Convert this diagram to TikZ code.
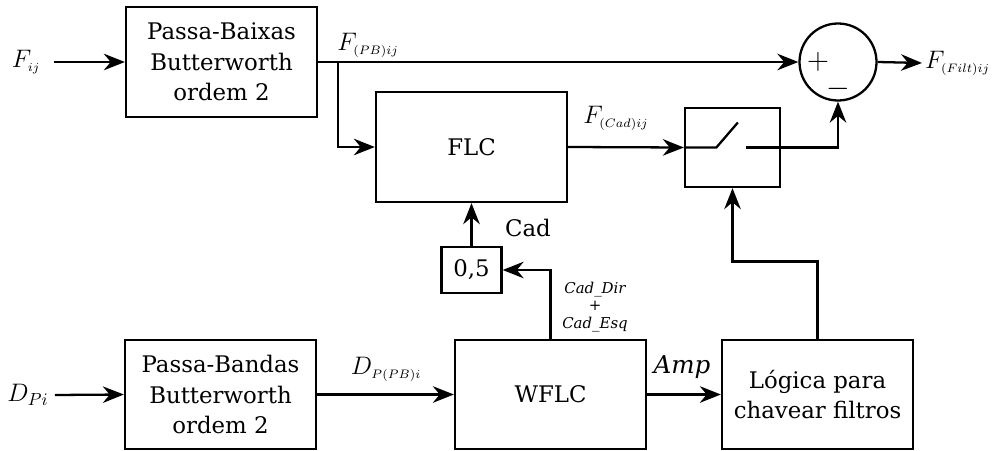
\documentclass[tikz,border=0pt]{standalone}
\usepackage{fontspec}
\setmainfont{DejaVu Serif}
\usetikzlibrary{arrows.meta,positioning}

\tikzset{
  txt/.style={font=\fontsize{13}{17.5}\selectfont},
  lab/.style={font=\fontsize{14}{16}\selectfont},
  blk/.style={draw,line width=1.3pt,minimum width=3.82cm,minimum height=2.2cm,align=center,txt},
  wire/.style={line width=1.3pt},
  sig/.style={line width=1.3pt,-{Stealth[length=4.2mm,width=3.3mm]}},
  small/.style={font=\fontsize{8.5}{10}\selectfont\itshape,align=center},
}
\newcommand{\ssub}[1]{_{\scriptscriptstyle #1}}

\begin{document}
\begin{tikzpicture}
\useasboundingbox (0,0) rectangle (19.9,9);
% blocos
\node[blk] (pb) at (4.43,7.76) {Passa-Baixas\\Butterworth\\ordem 2};
\node[blk] (flc) at (9.43,6.06) {FLC};
\node[draw,circle,line width=1.3pt,minimum size=1.54cm] (sum) at (16.76,7.76) {};
\node[draw,line width=1.3pt,minimum width=1.9cm,minimum height=1.58cm] (sw) at (14.65,6.05) {};
\node[blk,minimum height=2.18cm] (pband) at (4.41,1.11) {Passa-Bandas\\Butterworth\\ordem 2};
\node[blk,minimum height=2.18cm] (wflc) at (11.01,1.11) {WFLC};
\node[blk,minimum height=2.18cm] (logic) at (16.35,1.11) {Lógica para\\chavear filtros};
\node[blk,minimum width=1.2cm,minimum height=0.92cm] (gain) at (9.43,3.6) {0,5};
\node[font=\fontsize{17}{17}\selectfont] (plus) at (16.36,7.76) {$+$};
\node[font=\fontsize{17}{17}\selectfont] (minus) at (16.76,7.22) {$-$};
% entradas e saida
\node[lab] (fin) at (0.52,7.76) {$F\ssub{ij}$};
\node[lab] (din) at (0.56,1.1) {$D_{Pi}$};
\node[lab,anchor=west,inner xsep=1.5pt] (fout) at (18.44,7.74) {$F\ssub{(Filt)ij}$};
% ligacoes
\draw[sig] ([xshift=0.15cm]fin.east) -- (pb.west);
\coordinate (br) at (6.76,7.76);
\draw[wire] (pb.east) -- (br);
\draw[sig] (br) -- (sum.west);
\draw[sig] (br) |- (flc.west);
\draw[sig] (flc.east) -- (sw.west);
\draw[wire] (sw.west) -- ++(0.65,0) -- ++(0.43,0.5);
\draw[sig] ([xshift=1.25cm]sw.west) -| (sum.south);
\draw[sig] (sum.east) -- (fout.west);
\draw[sig] (din.east) -- (pband.west);
\draw[sig] (pband.east) -- (wflc.west);
\draw[sig] (wflc.north) |- (gain.east);
\draw[sig] (gain.north) -- (flc.south);
\draw[sig] (wflc.east) -- (logic.west);
\draw[sig] (logic.north) -- ++(0,1.55) -| (sw.south);
% rotulos
\node[lab] (fpb) at (7.36,8.1) {$F\ssub{(PB)ij}$};
\node[lab] (fcad) at (12.32,6.64) {$F\ssub{(Cad)ij}$};
\node[lab] (dpb) at (7.72,1.62) {$D\ssub{P(PB)i}$};
\node[lab] (amp) at (13.64,1.66) {\itshape Amp};
\node[txt] (cad) at (10.56,4.44) {Cad};
\node[small] (cads) at (11.9,2.86) {Cad\_Dir\\+\\Cad\_Esq};
\end{tikzpicture}
\end{document}
